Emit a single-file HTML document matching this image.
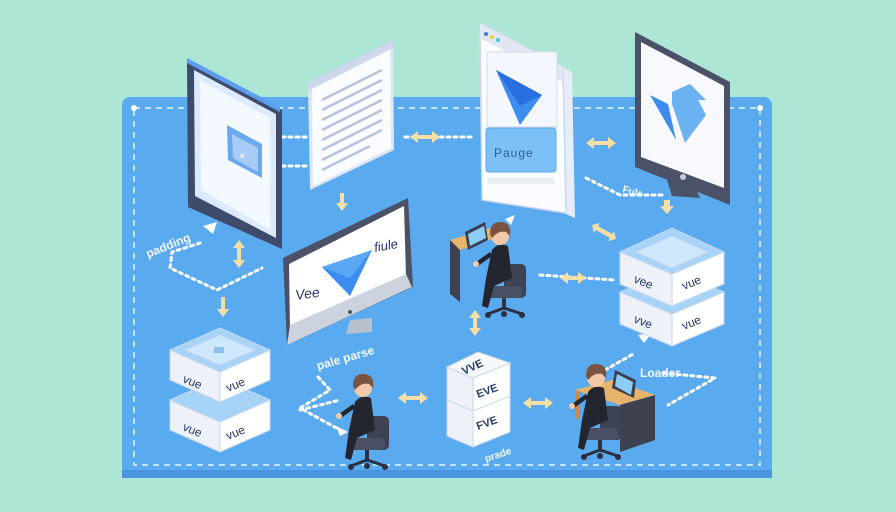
<!DOCTYPE html>
<html><head><meta charset="utf-8"><style>
html,body{margin:0;padding:0;background:#aee6d6;}
svg{display:block;}
text{font-family:"Liberation Sans",sans-serif;}
</style></head><body>
<svg width="896" height="512" viewBox="0 0 896 512" xmlns="http://www.w3.org/2000/svg">
<defs>
<g id="person">
  <!-- chair -->
  <rect x="22" y="48" width="22" height="34" rx="5" fill="#3d4254"/>
  <rect x="6" y="70" width="34" height="12" rx="4" fill="#4a5064"/>
  <rect x="20" y="82" width="4" height="12" fill="#2c3040"/>
  <path d="M6 98 L22 92 L40 98" stroke="#2c3040" stroke-width="3" fill="none"/>
  <circle cx="6" cy="99" r="3" fill="#2c3040"/><circle cx="40" cy="99" r="3" fill="#2c3040"/><circle cx="22" cy="98" r="3" fill="#2c3040"/>
  <!-- body -->
  <path d="M10 34 Q16 26 26 30 L30 62 L12 70 L6 92 L0 90 L4 62 Z" fill="#23262f"/>
  <path d="M10 40 L-4 50 L-6 46 L8 36 Z" fill="#23262f"/>
  <circle cx="-6" cy="48" r="3" fill="#f2c8a8"/>
  <!-- head -->
  <circle cx="18" cy="20" r="9" fill="#f2c8a8"/>
  <path d="M8 18 Q8 6 18 6 Q30 6 28 20 L24 16 Q16 14 10 22 Z" fill="#7a5440"/>
</g>
</defs>
<rect width="896" height="512" fill="#aee6d6"/>
<!-- board -->
<rect x="122" y="97" width="650" height="381" rx="8" fill="#5aaaf0"/>
<rect x="122" y="470" width="650" height="8" fill="#4a95e0"/>
<rect x="134" y="108" width="626" height="357" fill="none" stroke="#e8f4ff" stroke-width="1.5" stroke-dasharray="6,5"/>
<circle cx="134" cy="108" r="3" fill="#fff"/><circle cx="760" cy="108" r="3" fill="#fff"/>

<!-- dotted connectors -->
<g stroke="#fff" stroke-width="3" stroke-dasharray="3,4" fill="none" stroke-linecap="round">
<path d="M282 137 L306 137"/><path d="M282 166 L306 166"/>
<path d="M200 243 L172 252 L170 268 L217 290 L262 268"/>
<path d="M318 377 L330 390 L300 408 L340 430"/>
<path d="M300 410 L340 400"/>
<path d="M586 178 L620 195 L662 195"/>
<path d="M540 275 L615 280"/>
<path d="M605 370 L635 353"/>
<path d="M663 373 L715 378 L668 405"/>
<path d="M405 137 L474 137"/>
</g>
<!-- arrows (pale yellow) -->
<g fill="#f5dfa5">
<path d="M410 137 l8 -6 v4 h14 v-4 l8 6 l-8 6 v-4 h-14 v4 Z"/>
<path d="M586 143 l8 -6 v4 h14 v-4 l8 6 l-8 6 v-4 h-14 v4 Z"/>
<path d="M398 398 l8 -6 v4 h14 v-4 l8 6 l-8 6 v-4 h-14 v4 Z"/>
<path d="M523 403 l8 -6 v4 h14 v-4 l8 6 l-8 6 v-4 h-14 v4 Z"/>
<path d="M560 278 l8 -6 v4 h10 v-4 l8 6 l-8 6 v-4 h-10 v4 Z"/>
<path d="M239 240 l-6 8 h4 v12 h-4 l6 8 l6 -8 h-4 v-12 h4 Z"/>
<path d="M475 310 l-6 8 h4 v10 h-4 l6 8 l6 -8 h-4 v-10 h4 Z"/>
<path d="M340 193 h4 v10 h4 l-6 8 l-6 -8 h4 Z"/>
<path d="M221 297 h4 v12 h4 l-6 8 l-6 -8 h4 Z"/>
<path d="M473 325 h4 v8 h4 l-6 8 l-6 -8 h4 Z" opacity="0"/>
<path d="M592 225 l8 -2 l-2 3 l14 8 l2 -3 l2 8 l-8 2 l2 -3 l-14 -8 l-2 3 Z"/>
<path d="M664 200 h6 v6 h4 l-7 8 l-7 -8 h4 Z"/>
</g>
<g fill="#fff"><path d="M203 226 l14 -4 l-4 12 Z"/><path d="M638 335 l14 -2 l-8 10 Z"/><path d="M348 432 l-12 -6 l4 10 Z"/><path d="M515 215 l-10 4 l6 6 Z"/></g>

<!-- tablet -->
<polygon points="187,60 282,110 282,249 188,207" fill="#3f4b6b"/>
<polygon points="187,58 280,107 280,112 187,63" fill="#5aa0ee"/>
<polygon points="194,70 276,114 276,238 195,196" fill="#dbeaff"/>
<polygon points="200,80 270,118 270,230 201,190" fill="#f4f8ff"/>
<polygon points="227,125 262,144 262,178 228,160" fill="#6aa8f0"/>
<polygon points="232,134 258,148 258,172 233,158" fill="#a8ccf6"/>
<text x="240" y="158" font-size="8" fill="#fff" font-weight="bold">v</text>

<!-- document -->
<polygon points="308,83 393,40 394,150 310,190" fill="#dfe6f4"/>
<polygon points="312,85 390,46 391,148 313,186" fill="#fbfcff"/>
<polygon points="308,83 393,40 393,48 308,91" fill="#cfd8ea"/>
<g stroke="#b8c3dc" stroke-width="2.5">
<line x1="322" y1="100" x2="382" y2="70"/><line x1="322" y1="110" x2="382" y2="80"/><line x1="322" y1="120" x2="382" y2="90"/><line x1="322" y1="130" x2="382" y2="100"/><line x1="322" y1="140" x2="382" y2="110"/><line x1="322" y1="150" x2="382" y2="120"/><line x1="322" y1="160" x2="382" y2="130"/><line x1="322" y1="170" x2="370" y2="146"/>
</g>

<!-- browser page center -->
<polygon points="490,28 572,72 575,218 493,182" fill="#e6ecf8"/>
<polygon points="480,23 563,67 566,213 482,200" fill="#fbfcff" stroke="#cfd8ea" stroke-width="1.5"/>
<polygon points="480,23 563,67 563,82 480,38" fill="#e0e6f2"/>
<circle cx="486" cy="34" r="2" fill="#3a7de0"/><circle cx="492" cy="37" r="2" fill="#f0d040"/><circle cx="498" cy="40" r="2" fill="#40c8e0"/>
<rect x="487" y="52" width="70" height="75" fill="#f4f7fd" stroke="#d3dbeb"/>
<polygon points="496,70 542,95 520,125" fill="#3d8cf0"/>
<polygon points="496,70 542,95 520,106" fill="#2a6fe0"/>
<rect x="486" y="128" width="70" height="44" rx="3" fill="#7cc0f6" stroke="#5aa8ee"/>
<text x="494" y="157" font-size="12" fill="#2f5f9a" letter-spacing="1">Pauge</text>
<rect x="488" y="178" width="66" height="6" fill="#e8edf6"/>

<!-- right monitor -->
<polygon points="667,180 693,182 700,198 672,196" fill="#4a5266"/>
<polygon points="635,32 730,82 730,205 635,167" fill="#4b5268"/>
<polygon points="641,42 724,86 724,188 641,157" fill="#f7f9ff"/>
<polygon points="650,95 668,104 676,140" fill="#3d8cf0"/>
<polygon points="672,92 690,84 706,100 698,100 706,115 685,143 672,104" fill="#6ab2f2"/>
<circle cx="683" cy="177" r="3" fill="#c8d0e0"/>

<!-- center monitor -->
<polygon points="350,320 372,318 372,332 346,334" fill="#b8c0cc"/>
<polygon points="283,258 408,198 413,287 287,345" fill="#4b5268"/>
<polygon points="289,264 404,206 406,276 290,328" fill="#ffffff"/>
<polygon points="290,325 406,274 412,287 287,345" fill="#cdd3de"/>
<polygon points="322,267 372,250 350,296" fill="#3d8cf0"/>
<polygon points="322,267 372,250 350,278" fill="#5aa8f5"/>
<text x="296" y="300" font-size="14" fill="#243a6a" transform="rotate(-8 296 300)" font-style="italic">Vee</text>
<text x="375" y="252" font-size="13" fill="#243a6a" transform="rotate(-10 375 252)" font-style="italic">fiule</text>
<circle cx="350" cy="312" r="2" fill="#555"/>

<!-- person desk top center -->
<polygon points="450,240 490,228 500,236 460,250" fill="#e7b46b"/>
<polygon points="450,240 460,250 460,302 450,294" fill="#3e4250"/>
<polygon points="465,232 485,222 488,240 468,250" fill="#3a3f52"/>
<polygon points="468,234 484,226 486,238 470,246" fill="#8ccdf8"/>
<use href="#person" x="482" y="216"/>

<!-- person desk bottom right -->
<polygon points="575,390 620,405 655,395 612,380" fill="#e7b46b"/>
<polygon points="620,405 655,395 655,440 620,452" fill="#3e4250"/>
<polygon points="575,390 580,392 580,420 575,418" fill="#c8894a"/>
<polygon points="612,388 615,370 636,380 634,398" fill="#3a3f52"/>
<polygon points="615,386 617,374 633,382 631,395" fill="#8ccdf8"/>
<use href="#person" x="578" y="358"/>

<!-- person bottom center -->
<use href="#person" x="345" y="368"/>

<!-- left stack -->
<g stroke="#c9d6ea" stroke-width="1">
<polygon points="170,400 220,422 220,452 170,430" fill="#eef2f8"/>
<polygon points="220,422 270,400 270,430 220,452" fill="#ffffff"/>
<polygon points="170,400 220,378 270,400 220,422" fill="#a5d4f8"/>
<polygon points="170,350 220,372 220,402 170,380" fill="#eef2f8"/>
<polygon points="220,372 270,350 270,380 220,402" fill="#ffffff"/>
<polygon points="170,350 220,328 270,350 220,372" fill="#a5d4f8"/>
<polygon points="185,350 220,335 255,350 220,365" fill="#cde7fc"/>
</g>
<rect x="214" y="347" width="10" height="6" fill="#8cc0f0"/>
<g font-size="12" fill="#243a6a">
<text x="182" y="382" transform="rotate(22 182 382)">vue</text>
<text x="228" y="392" transform="rotate(-22 228 392)">vue</text>
<text x="182" y="430" transform="rotate(22 182 430)">vue</text>
<text x="228" y="440" transform="rotate(-22 228 440)">vue</text>
</g>

<!-- right stack -->
<g stroke="#c9d6ea" stroke-width="1">
<polygon points="620,292 672,314 672,346 620,324" fill="#eef2f8"/>
<polygon points="672,314 724,292 724,324 672,346" fill="#ffffff"/>
<polygon points="620,292 672,270 724,292 672,314" fill="#a5d4f8"/>
<polygon points="620,252 672,274 672,306 620,284" fill="#eef2f8"/>
<polygon points="672,274 724,252 724,284 672,306" fill="#ffffff"/>
<polygon points="620,252 672,228 724,252 672,274" fill="#a5d4f8"/>
<polygon points="636,252 672,236 708,252 672,268" fill="#cde7fc"/>
</g>
<g font-size="12" fill="#243a6a">
<text x="633" y="282" transform="rotate(22 633 282)">vee</text>
<text x="684" y="290" transform="rotate(-22 684 290)">vue</text>
<text x="633" y="322" transform="rotate(22 633 322)">vve</text>
<text x="684" y="330" transform="rotate(-22 684 330)">vue</text>
</g>

<!-- center stack -->
<g stroke="#c9d6ea" stroke-width="1">
<polygon points="447,367 473,378 473,447 447,436" fill="#eef2f8"/>
<polygon points="473,378 510,363 510,432 473,447" fill="#ffffff"/>
<polygon points="447,367 478,352 510,363 473,378" fill="#f6f8fc"/>
<line x1="447" y1="400" x2="473" y2="411"/><line x1="473" y1="411" x2="510" y2="396"/>
</g>
<g font-size="11" fill="#243a6a" font-weight="bold">
<text x="464" y="375" transform="rotate(-25 464 375)">VVE</text>
<text x="478" y="398" transform="rotate(-20 478 398)">EVE</text>
<text x="478" y="430" transform="rotate(-20 478 430)">FVE</text>
</g>

<!-- labels -->
<g font-size="12" fill="#f4f8ff" font-weight="bold">
<text x="148" y="258" transform="rotate(-22 148 258)">padding</text>
<text x="318" y="370" transform="rotate(-16 318 370)">pale parse</text>
<text x="622" y="192" font-size="10" transform="rotate(15 622 192)">Fule</text>
<text x="640" y="377">Loader</text>
<text x="486" y="462" font-size="10" transform="rotate(-18 486 462)">prade</text>
</g>
</svg>
</body></html>
